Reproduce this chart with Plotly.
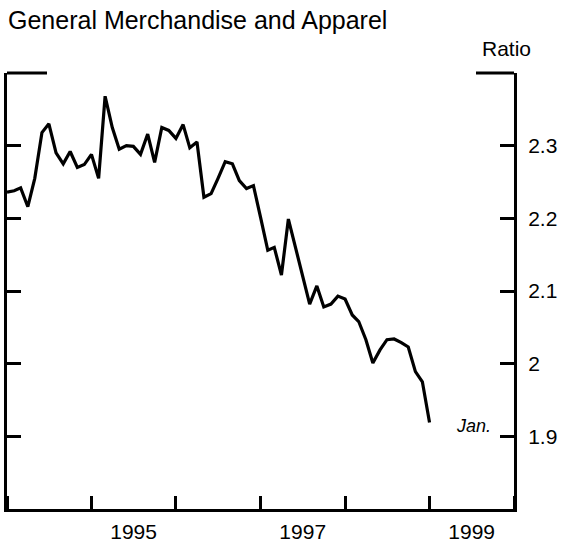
import pandas as pd
import plotly.graph_objects as go

# Monthly ratio, January 1994 through January 1999
months = pd.date_range("1994-01-01", "1999-01-01", freq="MS")
ratio = [
    2.236, 2.238, 2.242, 2.216, 2.255, 2.318, 2.330, 2.290, 2.275, 2.292, 2.270, 2.274,
    2.288, 2.255, 2.368, 2.325, 2.295, 2.300, 2.299, 2.288, 2.316, 2.277, 2.325, 2.321,
    2.310, 2.329, 2.297, 2.305, 2.229, 2.234, 2.255, 2.278, 2.275, 2.252, 2.241, 2.245,
    2.201, 2.156, 2.160, 2.122, 2.199, 2.160, 2.119, 2.082, 2.107, 2.078, 2.082, 2.093,
    2.089, 2.067, 2.058, 2.033, 2.001, 2.019, 2.033, 2.034, 2.029, 2.023, 1.989, 1.975,
    1.919,
]

year_label_pos = ["1995-07-02", "1997-07-02", "1999-07-02"]
year_labels = ["1995", "1997", "1999"]
y_ticks = [1.9, 2.0, 2.1, 2.2, 2.3]
y_tick_text = ["1.9", "2", "2.1", "2.2", "2.3"]

FONT = "Liberation Sans, Arial, Helvetica, sans-serif"

fig = go.Figure()
fig.add_trace(go.Scatter(
    x=months, y=ratio, mode="lines",
    line=dict(color="black", width=3.2),
    hoverinfo="skip", showlegend=False,
))

fig.update_layout(
    width=564, height=546,
    margin=dict(l=7, r=50, t=73, b=37),
    paper_bgcolor="white", plot_bgcolor="white",
    font=dict(family=FONT, color="black", size=21),
    title=dict(
        text="General Merchandise and Apparel",
        x=8 / 564, xanchor="left", y=1 - 20 / 546, yanchor="middle",
        font=dict(family=FONT, size=25, color="black"),
    ),
    xaxis=dict(
        type="date",
        range=["1994-01-01", "2000-01-01"],
        automargin=False,
        showgrid=False, zeroline=False,
        showline=True, linecolor="black", linewidth=3,
        tickmode="array", tickvals=year_label_pos, ticktext=year_labels,
        ticks="", ticklabelstandoff=2,
        tickfont=dict(size=21),
        minor=dict(
            ticks="inside", ticklen=13, tickwidth=2.5, tickcolor="black",
            dtick="M12", tick0="1994-01-01", showgrid=False,
        ),
    ),
    yaxis=dict(
        side="right",
        range=[1.8, 2.4],
        automargin=False,
        showgrid=False, zeroline=False,
        showline=True, linecolor="black", linewidth=3, mirror="ticks",
        tickmode="array", tickvals=y_ticks, ticktext=y_tick_text,
        ticks="inside", ticklen=14, tickwidth=2.5, tickcolor="black",
        ticklabelstandoff=7,
        tickfont=dict(size=21),
    ),
)

# Short corner segments along the top edge
for x0, x1 in [(0, 40 / 507), (1 - 38 / 507, 1)]:
    fig.add_shape(
        type="line", xref="paper", yref="paper",
        x0=x0, x1=x1, y0=1, y1=1,
        line=dict(color="black", width=3),
    )

fig.add_annotation(
    text="Ratio", xref="paper", yref="paper", x=1, y=1,
    xanchor="right", yanchor="middle", xshift=19, yshift=25,
    showarrow=False, font=dict(family=FONT, size=21),
)
fig.add_annotation(
    text="<i>Jan.</i>", x=months[-1], y=ratio[-1],
    xanchor="left", yanchor="middle", xshift=24, yshift=-3,
    showarrow=False, font=dict(family=FONT, size=18),
)

fig.write_html("out.html")
